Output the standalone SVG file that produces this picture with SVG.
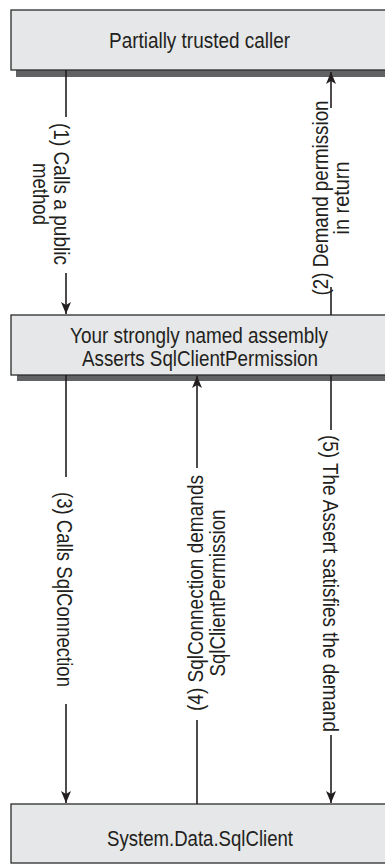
<svg xmlns="http://www.w3.org/2000/svg" width="385" height="865" viewBox="0 0 385 865">
<style>
.box{fill:#e6e7e8;stroke:#2b2b2b;stroke-width:1.3}
.shadow{fill:#616264}
.t{font-family:"Liberation Sans",Arial,sans-serif;font-size:22px;fill:#231f20;text-anchor:middle}
.c{stroke:#231f20;stroke-width:1.6;fill:none}
</style>
<defs>
<marker id="ah" markerUnits="userSpaceOnUse" markerWidth="13" markerHeight="11" refX="12" refY="5" orient="auto">
<path d="M0,0 L12,5 L0,10 L3,5 z" fill="#231f20"/>
</marker>
</defs>
<rect width="385" height="865" fill="#ffffff"/>
<g id="caller">
<rect class="shadow" x="16" y="15" width="380" height="62"/>
<rect class="box" x="11" y="10" width="380" height="60"/>
<text class="t" x="199.5" y="48" textLength="181" lengthAdjust="spacingAndGlyphs">Partially trusted caller</text>
</g>
<g id="assembly">
<rect class="shadow" x="17" y="320" width="380" height="61"/>
<rect class="box" x="11" y="315" width="380" height="60"/>
<text class="t" x="199" y="342.5" textLength="258" lengthAdjust="spacingAndGlyphs">Your strongly named assembly</text>
<text class="t" x="200" y="365.5" textLength="236" lengthAdjust="spacingAndGlyphs">Asserts SqlClientPermission</text>
</g>
<g id="sqlclient">
<rect class="box" x="11" y="804" width="380" height="59"/>
<text class="t" x="200" y="846" textLength="186" lengthAdjust="spacingAndGlyphs">System.Data.SqlClient</text>
</g>
<g id="connectors">
<line class="c" x1="66" y1="70" x2="66" y2="117"/>
<line class="c" x1="66" y1="273" x2="66" y2="314" marker-end="url(#ah)"/>
<line class="c" x1="331" y1="315" x2="331" y2="287"/>
<line class="c" x1="331" y1="108" x2="331" y2="72" marker-end="url(#ah)"/>
<line class="c" x1="66" y1="375" x2="66" y2="477"/>
<line class="c" x1="66" y1="704" x2="66" y2="803" marker-end="url(#ah)"/>
<line class="c" x1="197" y1="804" x2="197" y2="720"/>
<line class="c" x1="197" y1="468" x2="197" y2="376" marker-end="url(#ah)"/>
<line class="c" x1="331" y1="375" x2="331" y2="430"/>
<line class="c" x1="331" y1="735" x2="331" y2="803" marker-end="url(#ah)"/>
</g>
<g id="labels">
<g transform="translate(54,194) rotate(90)">
<text class="t" x="0" y="0" textLength="142" lengthAdjust="spacingAndGlyphs">(1) Calls a public</text>
<text class="t" x="0" y="21" textLength="62" lengthAdjust="spacingAndGlyphs">method</text>
</g>
<g transform="translate(328,198) rotate(-90)">
<text class="t" x="0" y="0" textLength="195" lengthAdjust="spacingAndGlyphs">(2) Demand permission</text>
<text class="t" x="0" y="21" textLength="73" lengthAdjust="spacingAndGlyphs">in return</text>
</g>
<g transform="translate(57,589.5) rotate(90)">
<text class="t" x="0" y="0" textLength="195" lengthAdjust="spacingAndGlyphs">(3) Calls SqlConnection</text>
</g>
<g transform="translate(203,593) rotate(-90)">
<text class="t" x="0" y="0" textLength="236" lengthAdjust="spacingAndGlyphs">(4) SqlConnection demands</text>
<text class="t" x="0" y="22" textLength="167" lengthAdjust="spacingAndGlyphs">SqlClientPermission</text>
</g>
<g transform="translate(323,583.5) rotate(90)">
<text class="t" x="0" y="0" textLength="297" lengthAdjust="spacingAndGlyphs">(5) The Assert satisfies the demand</text>
</g>
</g>
</svg>
